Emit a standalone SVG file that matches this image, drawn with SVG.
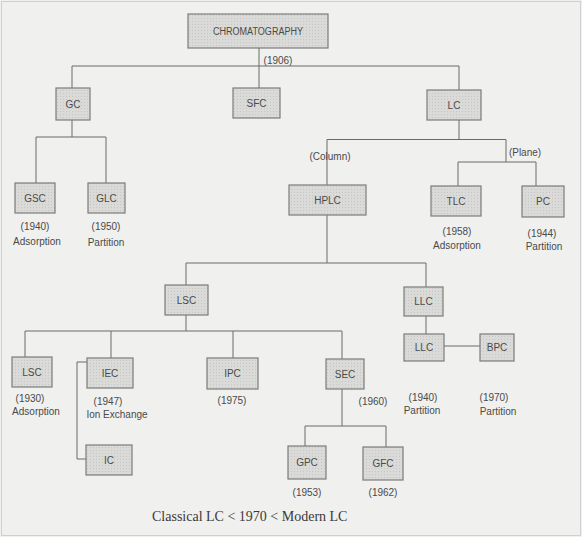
<svg xmlns="http://www.w3.org/2000/svg" width="582" height="537" viewBox="0 0 582 537">
<defs>
<pattern id="dots" width="3" height="3" patternUnits="userSpaceOnUse">
<rect width="3" height="3" fill="#dadad8"/>
<rect width="1" height="1" fill="#c6c6c4"/>
</pattern>
</defs>
<style>
.bg{fill:#f0f0ee}
.frame{fill:none;stroke:#d0d0d0;stroke-width:1}
.box{fill:url(#dots);stroke:#7c7c7c;stroke-width:1.2}
.t{font-family:"Liberation Sans",Arial,sans-serif;font-size:10px;fill:#4a4a4a;text-anchor:middle}
.l{font-family:"Liberation Sans",Arial,sans-serif;font-size:10px;fill:#4a4a4a;text-anchor:middle}
.cap{font-family:"Liberation Serif","Times New Roman",serif;font-size:14px;fill:#3a3a3a}
.c{fill:none;stroke:#6a6a6a;stroke-width:1}
</style>
<rect class="bg" x="0" y="0" width="582" height="537"/>
<rect class="frame" x="1.5" y="1.5" width="579" height="534"/>

<g id="connectors">
<path class="c" d="M259,48 V66 M72,66 H459 M72,66 V88 M259,66 V88 M459,66 V90"/>
<path class="c" d="M72,120 V137 M36,137 H106 M36,137 V183 M106,137 V183"/>
<path class="c" d="M459,120 V139.5 M327,139.5 H506 M327,139.5 V185 M506,139.5 V162 M458,162 H536 M458,162 V186 M536,162 V186"/>
<path class="c" d="M327,215 V263 M186,263 H426 M186,263 V285 M426,263 V287"/>
<path class="c" d="M186,315 V331 M25,331 H342 M25,331 V357 M111,331 V358 M233,331 V358 M342,331 V359"/>
<path class="c" d="M87,362 H77 V459 H86"/>
<path class="c" d="M426,316 V334 M444,346 H480"/>
<path class="c" d="M342,389 V426 M305,426 H386 M305,426 V446 M386,426 V447"/>
</g>

<g id="n-chromatography"><rect class="box" x="188" y="14" width="140" height="34"/><text class="t" x="258" y="35" textLength="90" lengthAdjust="spacingAndGlyphs">CHROMATOGRAPHY</text></g>
<text class="l" x="278" y="63.5">(1906)</text>
<g id="n-gc"><rect class="box" x="56" y="88" width="34" height="32"/><text class="t" x="73" y="107.5">GC</text></g>
<g id="n-sfc"><rect class="box" x="233" y="88" width="47" height="30"/><text class="t" x="256.5" y="106.5">SFC</text></g>
<g id="n-lc"><rect class="box" x="427" y="90" width="54" height="30"/><text class="t" x="454" y="108.5">LC</text></g>

<g id="n-gsc"><rect class="box" x="15" y="183" width="40" height="30"/><text class="t" x="35" y="201.5">GSC</text>
<text class="l" x="35" y="230">(1940)</text><text class="l" x="37" y="245">Adsorption</text></g>
<g id="n-glc"><rect class="box" x="88" y="183" width="37" height="30"/><text class="t" x="106.5" y="201.5">GLC</text>
<text class="l" x="106" y="230">(1950)</text><text class="l" x="106" y="246">Partition</text></g>

<text class="l" x="330" y="159.5">(Column)</text>
<text class="l" x="525" y="156">(Plane)</text>

<g id="n-hplc"><rect class="box" x="289" y="185" width="77" height="30"/><text class="t" x="327.5" y="203.5">HPLC</text></g>
<g id="n-tlc"><rect class="box" x="431" y="186" width="50" height="30"/><text class="t" x="456" y="204.5">TLC</text>
<text class="l" x="457" y="235">(1958)</text><text class="l" x="457" y="249">Adsorption</text></g>
<g id="n-pc"><rect class="box" x="522" y="186" width="42" height="31"/><text class="t" x="543" y="205">PC</text>
<text class="l" x="542" y="237">(1944)</text><text class="l" x="544" y="250">Partition</text></g>

<g id="n-lsc"><rect class="box" x="165" y="285" width="43" height="30"/><text class="t" x="186.5" y="303.5">LSC</text></g>
<g id="n-llc"><rect class="box" x="404" y="287" width="39" height="29"/><text class="t" x="423.5" y="305">LLC</text></g>

<g id="n-lsc2"><rect class="box" x="12" y="357" width="40" height="30"/><text class="t" x="32" y="375.5">LSC</text>
<text class="l" x="30" y="402">(1930)</text><text class="l" x="36" y="415">Adsorption</text></g>
<g id="n-iec"><rect class="box" x="87" y="358" width="46" height="30"/><text class="t" x="110" y="376.5">IEC</text>
<text class="l" x="108" y="404.5">(1947)</text><text class="l" x="117" y="418">Ion Exchange</text></g>
<g id="n-ipc"><rect class="box" x="207" y="358" width="51" height="31"/><text class="t" x="232.5" y="377">IPC</text>
<text class="l" x="232" y="404">(1975)</text></g>
<g id="n-sec"><rect class="box" x="326" y="359" width="38" height="30"/><text class="t" x="345" y="377.5">SEC</text>
<text class="l" x="373" y="405">(1960)</text></g>

<g id="n-llc2"><rect class="box" x="404" y="334" width="40" height="27"/><text class="t" x="424" y="351">LLC</text>
<text class="l" x="423" y="401">(1940)</text><text class="l" x="422" y="414">Partition</text></g>
<g id="n-bpc"><rect class="box" x="480" y="334" width="34" height="27"/><text class="t" x="497" y="351">BPC</text>
<text class="l" x="494" y="401">(1970)</text><text class="l" x="498" y="415">Partition</text></g>

<g id="n-ic"><rect class="box" x="86" y="445" width="46" height="30"/><text class="t" x="109" y="463.5">IC</text></g>
<g id="n-gpc"><rect class="box" x="288" y="446" width="38" height="33"/><text class="t" x="307" y="466">GPC</text>
<text class="l" x="307" y="495.5">(1953)</text></g>
<g id="n-gfc"><rect class="box" x="363" y="447" width="40" height="33"/><text class="t" x="383" y="467">GFC</text>
<text class="l" x="383" y="495.5">(1962)</text></g>

<text class="cap" x="152" y="521">Classical LC &lt; 1970 &lt; Modern LC</text>
</svg>
